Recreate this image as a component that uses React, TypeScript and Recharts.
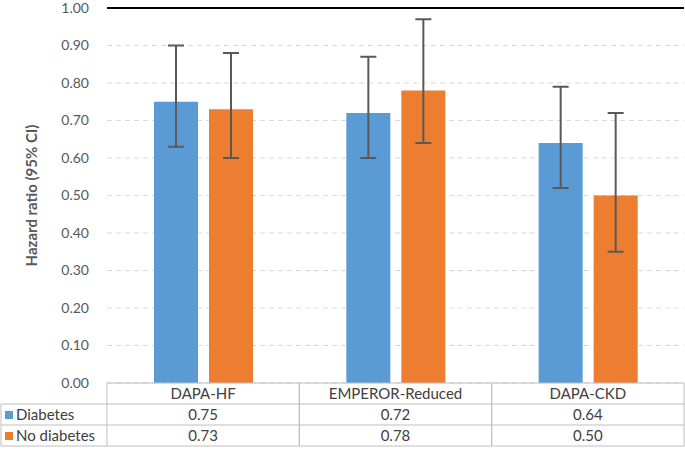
import React from 'react';
import {
  BarChart,
  Bar,
  XAxis,
  YAxis,
  CartesianGrid,
  ErrorBar,
  ReferenceLine,
} from 'recharts';

const trials = ['DAPA-HF', 'EMPEROR-Reduced', 'DAPA-CKD'];
const diabetesHR = [0.75, 0.72, 0.64];
const diabetesLow = [0.63, 0.6, 0.52];
const diabetesHigh = [0.9, 0.87, 0.79];
const noDiabetesHR = [0.73, 0.78, 0.5];
const noDiabetesLow = [0.6, 0.64, 0.35];
const noDiabetesHigh = [0.88, 0.97, 0.72];
const yTicks = [0, 0.1, 0.2, 0.3, 0.4, 0.5, 0.6, 0.7, 0.8, 0.9, 1.0];

const BLUE = '#5B9BD5';
const ORANGE = '#ED7D31';
const BORDER = '#BFBFBF';
const TEXT = '#404040';
const FONT = 'Lato, "Liberation Sans", sans-serif';

const data = trials.map((name, i) => ({
  name,
  diabetes: diabetesHR[i],
  diabetesErr: [diabetesHR[i] - diabetesLow[i], diabetesHigh[i] - diabetesHR[i]],
  noDiabetes: noDiabetesHR[i],
  noDiabetesErr: [noDiabetesHR[i] - noDiabetesLow[i], noDiabetesHigh[i] - noDiabetesHR[i]],
}));

const ROW = 21;
const LEFT = 107;

// draws one column of the data table under the axis
function TableTick(props: any) {
  const { x, y, payload, index } = props;
  const colW = 192.5;
  const left = x - colW / 2;
  const right = x + colW / 2;
  const top = y;
  const i = payload.index ?? index;
  return (
    <g fontFamily={FONT} fontSize={15} fill={TEXT}>
      <line x1={left} x2={left} y1={top} y2={top + ROW * 3} stroke={BORDER} />
      <line x1={right} x2={right} y1={top} y2={top + ROW * 3} stroke={BORDER} />
      <line x1={left} x2={right} y1={top + ROW} y2={top + ROW} stroke={BORDER} />
      <line x1={left} x2={right} y1={top + ROW * 2} y2={top + ROW * 2} stroke={BORDER} />
      <line x1={left} x2={right} y1={top + ROW * 3} y2={top + ROW * 3} stroke={BORDER} />
      <text x={x} y={top + 16} textAnchor="middle" fill={TEXT}>
        {payload.value}
      </text>
      <text x={x} y={top + ROW + 16} textAnchor="middle" fill={TEXT}>
        {diabetesHR[i].toFixed(2)}
      </text>
      <text x={x} y={top + ROW * 2 + 16} textAnchor="middle" fill={TEXT}>
        {noDiabetesHR[i].toFixed(2)}
      </text>
      {i === 0 && (
        <g>
          <line x1={1} x2={1} y1={top + ROW} y2={top + ROW * 3} stroke={BORDER} />
          <line x1={1} x2={left} y1={top + ROW} y2={top + ROW} stroke={BORDER} />
          <line x1={1} x2={left} y1={top + ROW * 2} y2={top + ROW * 2} stroke={BORDER} />
          <line x1={1} x2={left} y1={top + ROW * 3} y2={top + ROW * 3} stroke={BORDER} />
          <rect x={5} y={top + ROW + 7} width={8} height={8} fill={BLUE} />
          <text x={16} y={top + ROW + 16} fill={TEXT}>Diabetes</text>
          <rect x={5} y={top + ROW * 2 + 7} width={8} height={8} fill={ORANGE} />
          <text x={16} y={top + ROW * 2 + 16} fill={TEXT}>No diabetes</text>
        </g>
      )}
    </g>
  );
}

export default function App() {
  return (
    <div style={{ width: 685, height: 450, background: '#fff' }}>
      <style>{'body{margin:0}'}</style>
      <BarChart
        width={685}
        height={450}
        data={data}
        margin={{ top: 8, right: 1, left: 0, bottom: 0 }}
        barSize={44}
        barGap={11}
      >
        <CartesianGrid
          vertical={false}
          stroke="#D9D9D9"
          strokeDasharray="5 4"
        />
        <XAxis
          dataKey="name"
          height={67}
          interval={0}
          axisLine={{ stroke: BORDER }}
          tickLine={false}
          tickSize={0}
          tickMargin={0}
          tick={<TableTick />}
        />
        <YAxis
          width={LEFT}
          domain={[0, 1]}
          ticks={yTicks}
          interval={0}
          axisLine={false}
          tickLine={false}
          tickSize={6}
          tickMargin={12}
          tickFormatter={(v: number) => v.toFixed(2)}
          tick={{ fontSize: 14, fill: '#595959', fontFamily: FONT }}
          label={{
            value: 'Hazard ratio (95% CI)',
            angle: -90,
            position: 'insideLeft',
            offset: 32,
            style: {
              textAnchor: 'middle',
              fontSize: 15,
              fontWeight: 'bold',
              fill: '#595959',
              fontFamily: FONT,
            },
          }}
        />
        <ReferenceLine y={1} stroke="#000" strokeWidth={2} />
        <Bar dataKey="diabetes" fill={BLUE} isAnimationActive={false}>
          <ErrorBar dataKey="diabetesErr" width={8} strokeWidth={2} stroke="#595959" />
        </Bar>
        <Bar dataKey="noDiabetes" fill={ORANGE} isAnimationActive={false}>
          <ErrorBar dataKey="noDiabetesErr" width={8} strokeWidth={2} stroke="#595959" />
        </Bar>
      </BarChart>
    </div>
  );
}
